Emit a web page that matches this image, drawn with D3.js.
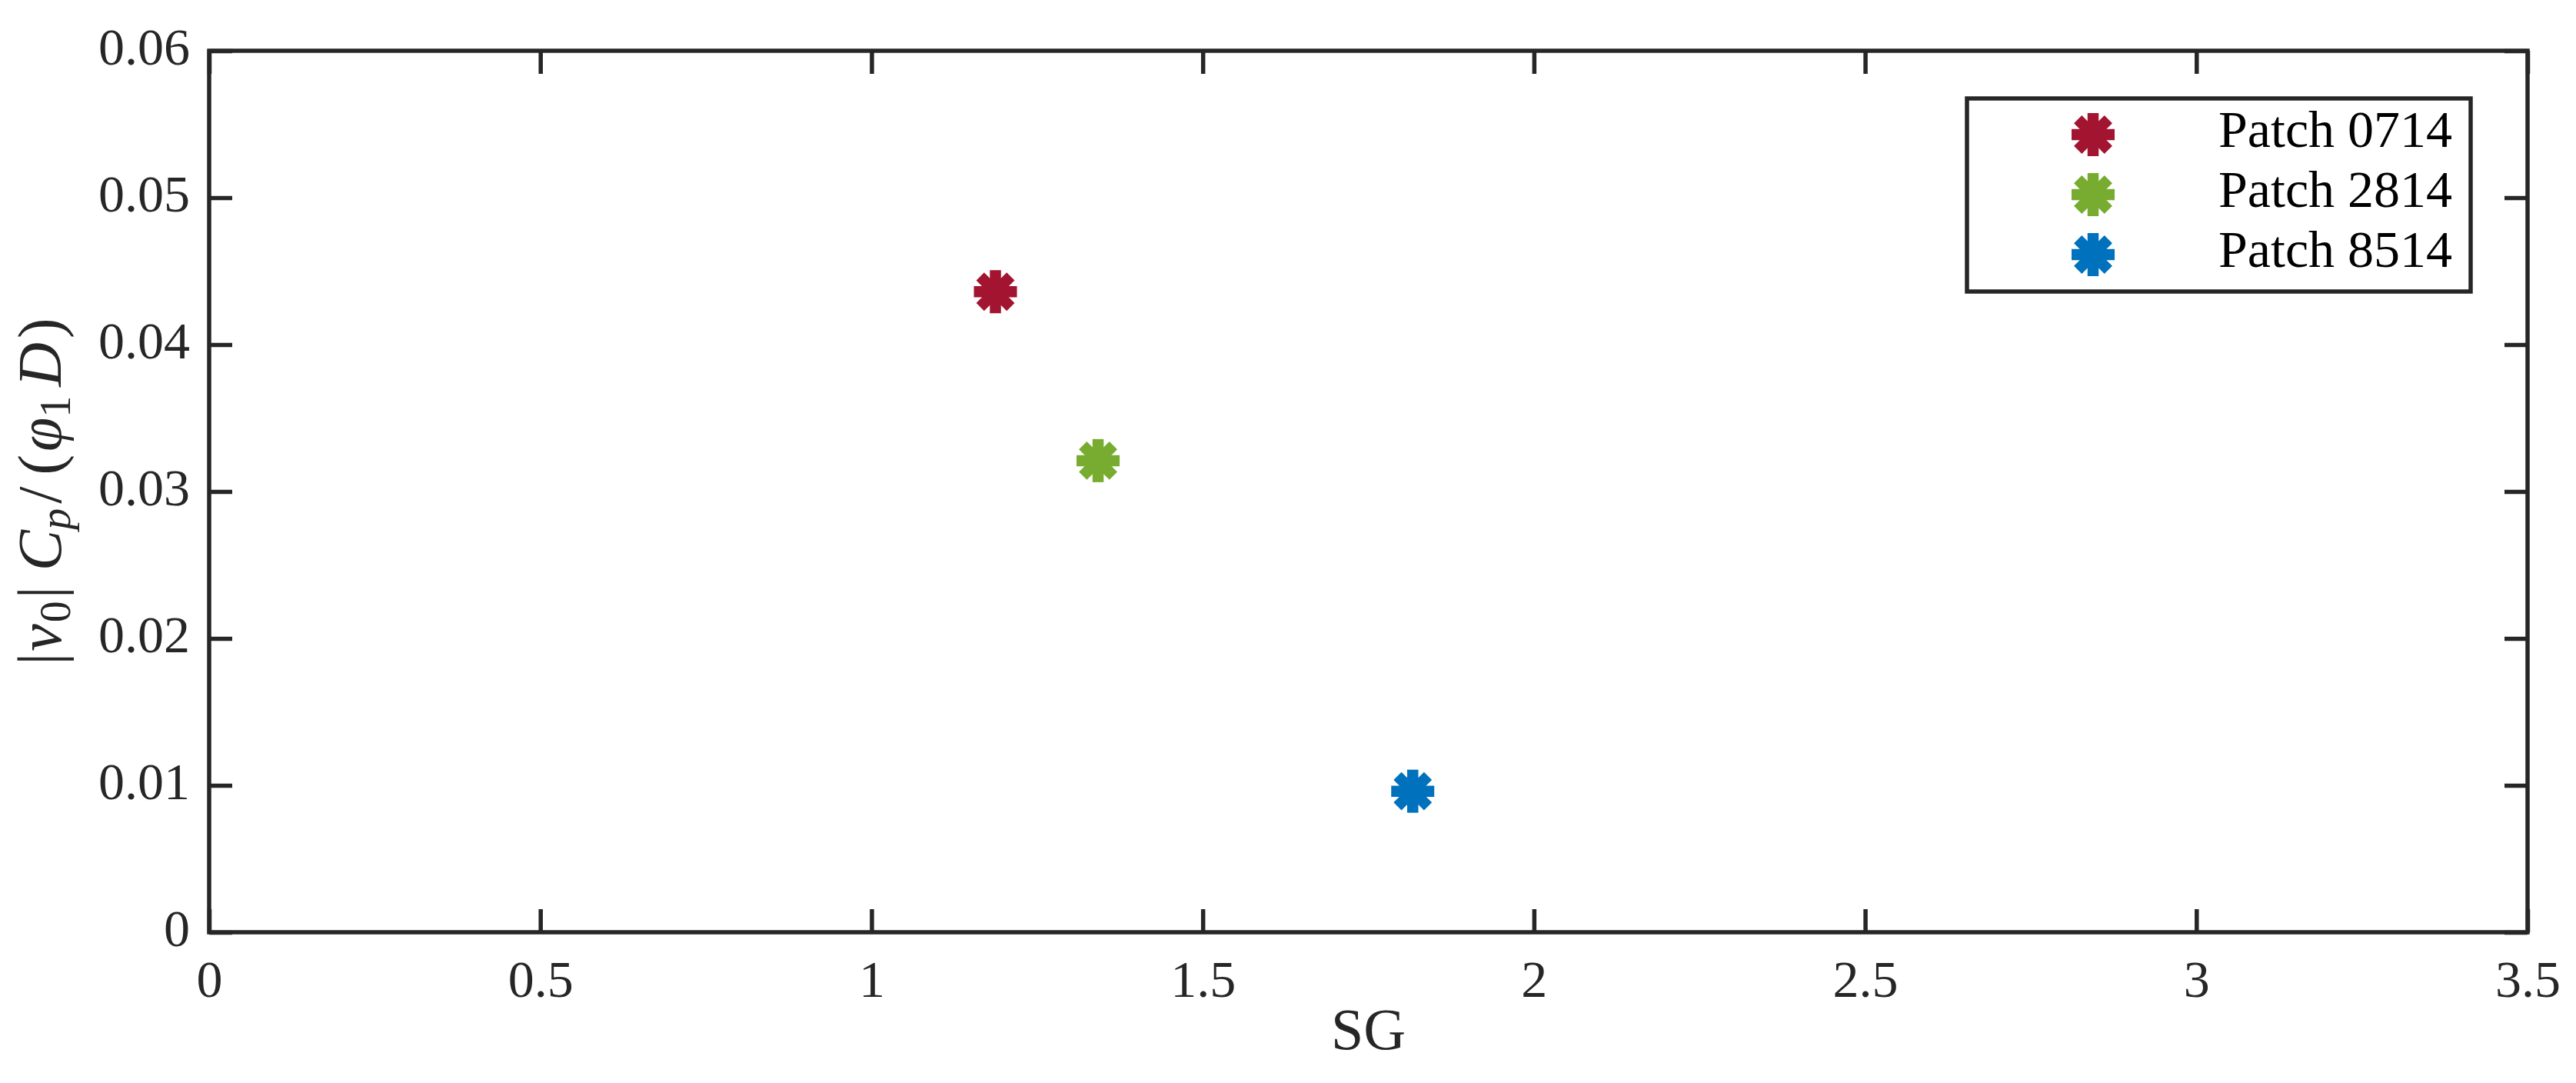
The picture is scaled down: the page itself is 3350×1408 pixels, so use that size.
<!DOCTYPE html>
<html>
<head>
<meta charset="utf-8">
<script src="https://cdn.jsdelivr.net/npm/d3@7"></script>
<style>
  html, body { margin: 0; padding: 0; background: #fff; }
  svg { display: block; }
  text { font-family: "Liberation Serif", "DejaVu Serif", serif; }
</style>
</head>
<body>
<svg id="chart" width="3350" height="1408"></svg>
<script>
// ---- data ----
const categories = ["Patch 0714", "Patch 2814", "Patch 8514"];
const sgValues = [1.187, 1.342, 1.817];
const ratioValues = [0.0436, 0.0321, 0.0096];
const seriesColors = ["#A2142F", "#77AC30", "#0072BD"];
const xTicks = [0, 0.5, 1, 1.5, 2, 2.5, 3, 3.5];
const yTicks = [0, 0.01, 0.02, 0.03, 0.04, 0.05, 0.06];
const xTickLabels = ["0", "0.5", "1", "1.5", "2", "2.5", "3", "3.5"];
const yTickLabels = ["0", "0.01", "0.02", "0.03", "0.04", "0.05", "0.06"];

(function () {
// ---- layout ----
const W = 3350, H = 1408;
const pLeft = 272, pRight = 3287, pTop = 66, pBottom = 1212;
const axisColor = "#262626";
const lw = 5.5, tickLen = 30;
const fontSize = 68;

const svg = d3.select("#chart");
svg.append("rect").attr("width", W).attr("height", H).attr("fill", "#fff");

const x = d3.scaleLinear().domain([0, 3.5]).range([pLeft, pRight]);
const y = d3.scaleLinear().domain([0, 0.06]).range([pBottom, pTop]);

const fmtX = (d, i) => xTickLabels[i];
const fmtY = (d, i) => yTickLabels[i];

function styleAxis(g) {
  g.selectAll(".domain").remove();
  g.selectAll(".tick line").attr("stroke", axisColor).attr("stroke-width", lw);
  g.selectAll(".tick text").attr("fill", axisColor).attr("font-size", fontSize)
    .attr("font-family", '"Liberation Serif", serif');
}

const gxB = svg.append("g").attr("transform", `translate(0,${pBottom})`)
  .call(d3.axisBottom(x).tickValues(xTicks).tickFormat(fmtX).tickSizeInner(-tickLen).tickSizeOuter(0).tickPadding(0));
styleAxis(gxB);
gxB.selectAll(".tick text").attr("y", 84).attr("dy", null);

const gxT = svg.append("g").attr("transform", `translate(0,${pTop})`)
  .call(d3.axisTop(x).tickValues(xTicks).tickFormat("").tickSizeInner(-tickLen).tickSizeOuter(0));
styleAxis(gxT);

const gyL = svg.append("g").attr("transform", `translate(${pLeft},0)`)
  .call(d3.axisLeft(y).tickValues(yTicks).tickFormat(fmtY).tickSizeInner(-tickLen).tickSizeOuter(0).tickPadding(0));
styleAxis(gyL);
gyL.selectAll(".tick text").attr("x", -25).attr("dy", null).attr("y", 17).attr("text-anchor", "end");

const gyR = svg.append("g").attr("transform", `translate(${pRight},0)`)
  .call(d3.axisRight(y).tickValues(yTicks).tickFormat("").tickSizeInner(-tickLen).tickSizeOuter(0));
styleAxis(gyR);

// box
svg.append("rect")
  .attr("x", pLeft).attr("y", pTop)
  .attr("width", pRight - pLeft).attr("height", pBottom - pTop)
  .attr("fill", "none").attr("stroke", axisColor).attr("stroke-width", lw)
  .attr("stroke-linecap", "square");

// asterisk marker
const R = 28, armW = 14.5;
function asterisk(g, color) {
  [0, 45, 90, 135].forEach(a => {
    const r = a * Math.PI / 180;
    g.append("line")
      .attr("x1", -R * Math.cos(r)).attr("y1", -R * Math.sin(r))
      .attr("x2", R * Math.cos(r)).attr("y2", R * Math.sin(r))
      .attr("stroke", color).attr("stroke-width", armW).attr("stroke-linecap", "butt");
  });
}

const pts = categories.map((c, i) => ({ c, sg: sgValues[i], v: ratioValues[i], color: seriesColors[i] }));
svg.append("g").selectAll("g.pt").data(pts).join("g")
  .attr("class", "pt")
  .attr("transform", d => `translate(${x(d.sg)},${y(d.v)})`)
  .each(function (d) { asterisk(d3.select(this), d.color); });

// x label
svg.append("text")
  .attr("x", (pLeft + pRight) / 2).attr("y", 1364)
  .attr("text-anchor", "middle").attr("font-size", 76).attr("fill", axisColor)
  .text("SG");

// y label
const yl = svg.append("text")
  .attr("transform", `translate(79,${(pTop + pBottom) / 2}) rotate(-90)`)
  .attr("text-anchor", "middle").attr("font-size", 80).attr("fill", axisColor);
const sub = 56, sh = 12;
yl.append("tspan").text("|");
yl.append("tspan").attr("font-style", "italic").attr("dx", 2).text("v");
yl.append("tspan").attr("font-size", sub).attr("dy", sh).attr("dx", 2).text("0");
yl.append("tspan").attr("dy", -sh).attr("dx", 3).text("|");
yl.append("tspan").attr("font-style", "italic").attr("dx", 20).text("C");
yl.append("tspan").attr("font-style", "italic").attr("font-size", sub).attr("dy", sh).text("p");
yl.append("tspan").attr("dy", -sh).attr("dx", 6).text("/");
yl.append("tspan").attr("dx", 15).text("(");
yl.append("tspan").attr("font-style", "italic").attr("dx", 4).text("φ");
yl.append("tspan").attr("font-size", sub).attr("dy", sh).text("1");
yl.append("tspan").attr("font-style", "italic").attr("dy", -sh).attr("dx", 12).text("D");
yl.append("tspan").attr("dx", 5).text(")");

// legend
const lgX0 = 2558, lgY0 = 128, lgX1 = 3213, lgY1 = 379;
const lg = svg.append("g");
lg.append("rect")
  .attr("x", lgX0).attr("y", lgY0).attr("width", lgX1 - lgX0).attr("height", lgY1 - lgY0)
  .attr("fill", "#fff").attr("stroke", axisColor).attr("stroke-width", lw);
const rowY = d3.scalePoint().domain(categories).range([175, 331]);
const rows = lg.selectAll("g.row").data(pts).join("g").attr("class", "row");
rows.append("g")
  .attr("transform", d => `translate(2722,${rowY(d.c)})`)
  .each(function (d) { asterisk(d3.select(this), d.color); });
rows.append("text")
  .attr("x", 2885).attr("y", d => rowY(d.c) + 16)
  .attr("font-size", fontSize).attr("fill", "#000")
  .text(d => d.c);
})();
</script>
</body>
</html>
